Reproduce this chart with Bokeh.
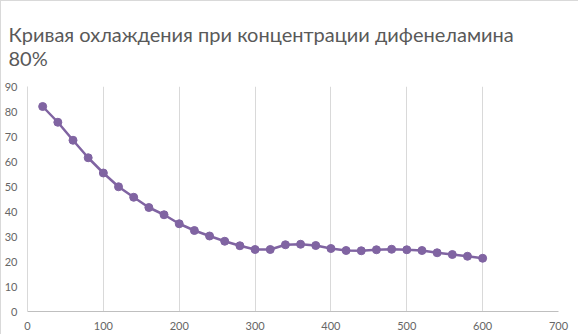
from bokeh.plotting import figure
from bokeh.models import Range1d, FixedTicker, Title
from bokeh.embed import file_html
from bokeh.resources import INLINE

# Data
time_s = [20, 40, 60, 80, 100, 120, 140, 160, 180, 200,
          220, 240, 260, 280, 300, 320, 340, 360, 380, 400,
          420, 440, 460, 480, 500, 520, 540, 560, 580, 600]
temp_c = [82.0, 75.7, 68.5, 61.5, 55.4, 49.9, 45.7, 41.6, 38.7, 35.1,
          32.4, 30.2, 28.1, 26.3, 24.8, 24.8, 26.7, 26.9, 26.4, 25.2,
          24.4, 24.3, 24.7, 24.9, 24.7, 24.4, 23.5, 22.8, 22.1, 21.3]
x_ticks = [0, 100, 200, 300, 400, 500, 600, 700]
y_ticks = [0, 10, 20, 30, 40, 50, 60, 70, 80, 90]
title_text = "Кривая охлаждения при концентрации дифенеламина\n80%"

FONT = "Lato"
GRAY = "#595959"
PURPLE = "#8064A2"

p = figure(width=578, height=334, output_backend="svg", toolbar_location=None,
           x_range=Range1d(0, 700), y_range=Range1d(0, 90),
           min_border_left=26, min_border_right=21, min_border_top=85,
           min_border_bottom=24)
p.styles = {"border-left": "1px solid #d9d9d9", "border-top": "1px solid #d9d9d9"}

p.title = Title(text=title_text, text_font=FONT, text_font_size="20px",
                text_color=GRAY, text_font_style="normal", align="left",
                standoff=34, offset=-19)

p.outline_line_color = None
p.background_fill_color = "white"
p.border_fill_color = "white"

p.xgrid.ticker = FixedTicker(ticks=x_ticks)
p.xgrid.grid_line_color = "#d9d9d9"
p.ygrid.grid_line_color = None

p.xaxis.ticker = FixedTicker(ticks=x_ticks)
p.yaxis.ticker = FixedTicker(ticks=y_ticks)
for ax in (p.xaxis[0], p.yaxis[0]):
    ax.major_tick_line_color = None
    ax.minor_tick_line_color = None
    ax.major_label_text_font = FONT
    ax.major_label_text_font_size = "11px"
    ax.major_label_text_color = "#666666"
p.xaxis.axis_line_color = "#bfbfbf"
p.yaxis.axis_line_color = "#d9d9d9"
p.xaxis.major_label_standoff = 4
p.yaxis.major_label_standoff = 4

p.line(time_s, temp_c, line_color=PURPLE, line_width=2.5)
p.scatter(time_s, temp_c, size=8, fill_color=PURPLE, line_color=PURPLE)

open("out.html", "w").write(file_html(p, INLINE))
